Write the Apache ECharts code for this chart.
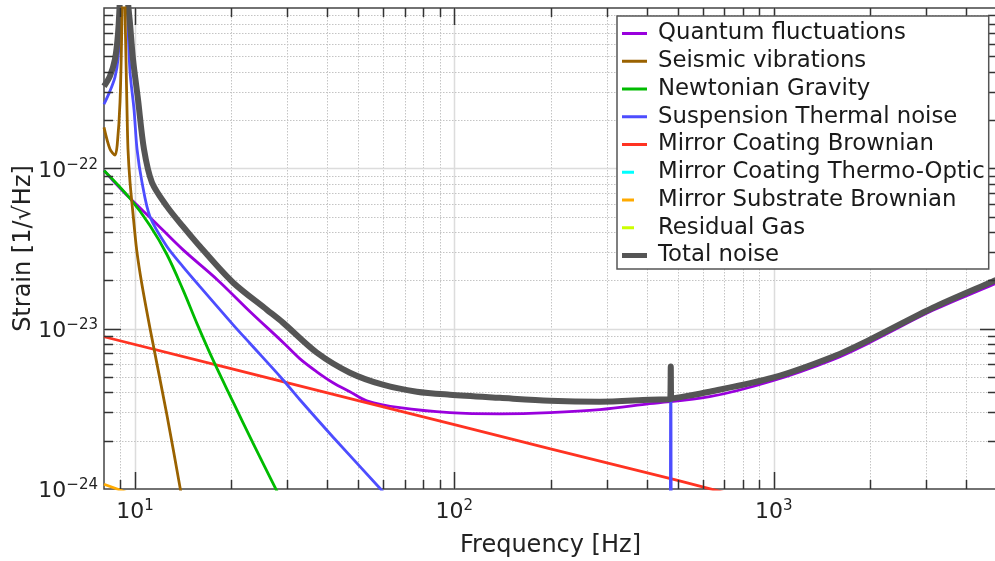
<!DOCTYPE html>
<html>
<head>
<meta charset="utf-8">
<script src="https://cdn.jsdelivr.net/npm/echarts@6/dist/echarts.min.js"></script>
<style>
  html, body { margin: 0; padding: 0; background: #fff; }
  #main { width: 995px; height: 561px; }
</style>
</head>
<body>
<div id="main"></div>
<script>
const X_MIN = 8, X_MAX = 5000;
const Y_MIN = 1e-24, Y_MAX = 1e-21;

// [frequency Hz, strain 1/sqrt(Hz)]
const quantumNoise = [
    [8, 9.7e-23], [8.53, 8.4e-23], [9.65, 6.5e-23], [11.4, 4.73e-23], [14.1, 3.12e-23],
    [18.1, 2.02e-23], [22.9, 1.28e-23], [29.1, 8.2e-24], [32.8, 6.5e-24], [37.1, 5.38e-24],
    [41.7, 4.6e-24], [47.1, 4.04e-24], [53.2, 3.55e-24], [67.5, 3.21e-24], [96.8, 2.99e-24],
    [139, 2.94e-24], [199, 2.99e-24], [285, 3.12e-24], [409, 3.4e-24], [630, 3.76e-24],
    [993, 4.73e-24], [1530, 6.4e-24], [2000, 8.2e-24], [3150, 1.3e-23], [4850, 1.88e-23], [5000, 1.93e-23]
];
const seismicNoise = [
    [8, 1.8e-22], [8.35, 1.32e-22], [8.66, 1.21e-22], [8.8, 1.4e-22], [8.98, 2.6e-22],
    [9.1, 8e-22], [9.24, 6e-21], [9.31, 1e-21], [9.37, 5e-22], [9.44, 2.4e-22], [9.51, 1.32e-22],
    [9.65, 8.2e-23], [9.88, 5.0e-23], [10.12, 3.12e-23], [10.49, 1.94e-23], [11.14, 1.01e-23],
    [12.57, 2.94e-24], [13.83, 1.03e-24], [14.5, 6e-25]
];
const newtonianNoise = [
    [8, 9.7e-23], [9.65, 6.49e-23], [11.14, 4.4e-23], [12.59, 2.9e-23], [14.13, 1.75e-23],
    [15.64, 1.075e-23], [17.54, 6.4e-24], [20.27, 3.5e-24], [23.4, 1.94e-24], [27.6, 1.0e-24], [31, 6.3e-25]
];
const suspensionNoise = [
    [8, 2.51e-22], [8.35, 3.03e-22], [8.66, 3.71e-22], [8.85, 4.8e-22], [9.0, 9e-22], [9.1, 2.5e-21],
    [9.24, 8e-21], [9.37, 2.5e-21], [9.51, 8e-22], [9.65, 4e-22], [9.93, 2.34e-22], [10.15, 1.32e-22],
    [10.52, 8.18e-23], [11.14, 5.0e-23], [12.59, 3.25e-23], [14.13, 2.44e-23], [15.98, 1.83e-23],
    [20.27, 1.06e-23], [22.9, 8.1e-24], [29.06, 4.8e-24], [32.84, 3.6e-24], [41.67, 2.11e-24],
    [58.46, 1.01e-24], [65, 8e-25], [470, 1e-25], [476, 4.5e-24], [482, 1e-25], [5000, 1e-25]
];
const coatingBrownian = [
    [8, 8.9e-24], [20, 5.63e-24], [50, 3.56e-24], [100, 2.52e-24], [200, 1.78e-24], [500, 1.13e-24], [1000, 7.9e-25]
];
const coatingThermoOptic = [[8, 3e-25], [100, 1.5e-25], [1000, 1.5e-25], [5000, 2e-25]];
const substrateBrownian = [[8, 1.07e-24], [10, 9.1e-25], [20, 6e-25], [100, 2.3e-25], [1000, 6e-26]];
const residualGas = [[8, 6e-25], [100, 4e-25], [5000, 4e-25]];
const totalNoise = [
    [8, 3.25e-22], [8.35, 3.76e-22], [8.66, 4.8e-22], [8.85, 6.9e-22], [8.98, 1.2e-21], [9.1, 3e-21],
    [9.24, 8e-21], [9.37, 2.5e-21], [9.51, 1.1e-21], [9.65, 8e-22], [9.86, 4.8e-22], [10.22, 2.7e-22],
    [10.67, 1.32e-22], [11.3, 8.18e-23], [12.59, 5.79e-23], [14.13, 4.34e-23], [15.98, 3.25e-23],
    [20.27, 1.94e-23], [25.9, 1.31e-23], [29.06, 1.09e-23], [37.1, 7.08e-24], [47.1, 5.31e-24],
    [59.7, 4.47e-24], [76.3, 4.04e-24], [96.8, 3.87e-24], [139, 3.7e-24], [199, 3.55e-24],
    [285, 3.5e-24], [409, 3.6e-24], [472, 3.63e-24], [474.5, 3.64e-24], [476, 5.8e-24], [477.5, 3.65e-24],
    [480, 3.66e-24], [630, 4.04e-24], [993, 4.94e-24], [1530, 6.68e-24], [2000, 8.54e-24],
    [3150, 1.35e-23], [4850, 1.97e-23], [5000, 2.02e-23]
];

const xMajorTicks = [10, 100, 1000];
const xMinorTicks = [9, 20, 30, 40, 50, 60, 70, 80, 90, 200, 300, 400, 500, 600, 700, 800, 900, 2000, 3000, 4000];
const yMajorTicks = [1e-23, 1e-22];
const yMinorTicks = [
    2e-24, 3e-24, 4e-24, 5e-24, 6e-24, 7e-24, 8e-24, 9e-24,
    2e-23, 3e-23, 4e-23, 5e-23, 6e-23, 7e-23, 8e-23, 9e-23,
    2e-22, 3e-22, 4e-22, 5e-22, 6e-22, 7e-22, 8e-22, 9e-22
];

const FONT = 'DejaVu Sans';
const chart = echarts.init(document.getElementById('main'));

// kind: 0 x minor, 1 x major, 2 y minor, 3 y major
const tickRows = [].concat(
    xMinorTicks.map(v => [v, Y_MIN, 0]),
    xMajorTicks.map(v => [v, Y_MIN, 1]),
    yMinorTicks.map(v => [X_MIN, v, 2]),
    yMajorTicks.map(v => [X_MIN, v, 3])
);

function tickPos(api, kind) {
    if (kind < 2) return Math.round(api.coord([api.value(0), Y_MIN])[0]) + 0.5;
    return Math.round(api.coord([X_MIN, api.value(1)])[1]) + 0.5;
}

function renderGrid(params, api) {
    const cs = params.coordSys;
    const kind = api.value(2);
    const p = tickPos(api, kind);
    const style = kind % 2 === 1
        ? { stroke: '#dcdcdc', lineWidth: 1.5 }
        : { stroke: '#c4c4c4', lineWidth: 1, lineDash: [1.5, 1.5] };
    const shape = kind < 2
        ? { x1: p, y1: cs.y, x2: p, y2: cs.y + cs.height }
        : { x1: cs.x, y1: p, x2: cs.x + cs.width, y2: p };
    return { type: 'line', shape: shape, style: style, silent: true };
}

function renderTicks(params, api) {
    const cs = params.coordSys;
    const kind = api.value(2);
    const p = tickPos(api, kind);
    const len = kind % 2 === 1 ? 17 : 9;
    const style = { stroke: '#333', lineWidth: 1.5 };
    let a, b;
    if (kind < 2) {
        a = { x1: p, y1: cs.y + cs.height, x2: p, y2: cs.y + cs.height - len };
        b = { x1: p, y1: cs.y, x2: p, y2: cs.y + len };
    } else {
        a = { x1: cs.x, y1: p, x2: cs.x + len, y2: p };
        b = { x1: cs.x + cs.width, y1: p, x2: cs.x + cs.width - len, y2: p };
    }
    return {
        type: 'group',
        silent: true,
        children: [
            { type: 'line', shape: a, style: style },
            { type: 'line', shape: b, style: style }
        ]
    };
}

function powerLabel(hideTop) {
    return function(v) {
        if (!(v > 0) || !isFinite(v)) return '';
        const e = Math.log10(v);
        const r = Math.round(e);
        if (Math.abs(e - r) > 1e-6) return '';
        if (hideTop && r === -21) return '';
        return '{b|10}{s|' + String(r).replace('-', '\u2212') + '}';
    };
}

const supRich = {
    b: { fontSize: 22, lineHeight: 22, padding: [5, 0, 0, 0], color: '#222', fontFamily: FONT },
    s: { fontSize: 15, lineHeight: 15, verticalAlign: 'top', color: '#222', fontFamily: FONT }
};

function curve(name, data, color, width, smooth) {
    return {
        name: name,
        type: 'line',
        data: data,
        symbol: 'none',
        showSymbol: false,
        clip: true,
        smooth: smooth || false,
        lineStyle: { color: color, width: width },
        itemStyle: { color: color },
        z: 2
    };
}

const corners = 'M0,0h0.01v0.01h-0.01z M30.99,13.99h0.01v0.01h-0.01z ';
const iconLong = 'path://' + corners + 'M0,5.5h25v3h-25z';
const iconShort = 'path://' + corners + 'M0,5.5h12v3h-12z';
const iconThick = 'path://' + corners + 'M0,4.5h25v5h-25z';

const option = {
    animation: false,
    backgroundColor: '#fff',
    grid: {
        left: 104, right: -2, top: 8, bottom: 72,
        show: true, borderColor: '#444', borderWidth: 1.5, backgroundColor: 'transparent',
        outerBoundsMode: 'none'
    },
    legend: {
        orient: 'vertical',
        left: 617, top: 16,
        padding: [6, 4, 2, 5],
        itemWidth: 31, itemHeight: 14, itemGap: 4.75,
        backgroundColor: '#fff',
        borderColor: '#555', borderWidth: 1.5, borderRadius: 0,
        selectedMode: false,
        textStyle: { fontSize: 22.8, lineHeight: 22, color: '#1a1a1a', fontFamily: FONT },
        data: [
            { name: 'Quantum fluctuations', icon: iconLong },
            { name: 'Seismic vibrations', icon: iconLong },
            { name: 'Newtonian Gravity', icon: iconLong },
            { name: 'Suspension Thermal noise', icon: iconLong },
            { name: 'Mirror Coating Brownian', icon: iconLong },
            { name: 'Mirror Coating Thermo-Optic', icon: iconShort },
            { name: 'Mirror Substrate Brownian', icon: iconShort },
            { name: 'Residual Gas', icon: iconShort },
            { name: 'Total noise', icon: iconThick }
        ],
        z: 10
    },
    xAxis: {
        type: 'log', logBase: 10, min: X_MIN, max: X_MAX,
        axisLine: { show: false }, axisTick: { show: false }, splitLine: { show: false },
        axisLabel: { margin: 10, formatter: powerLabel(false), rich: supRich, showMinLabel: false, showMaxLabel: false },
        name: 'Frequency [Hz]', nameLocation: 'middle', nameGap: 45, nameMoveOverlap: false,
        nameTextStyle: { fontSize: 24, color: '#222', fontFamily: FONT }
    },
    yAxis: {
        // a hair below 1e-24 so that 1e-24 is an ordinary labelled tick
        type: 'log', logBase: 10, min: 0.999e-24, max: Y_MAX,
        axisLine: { show: false }, axisTick: { show: false }, splitLine: { show: false },
        axisLabel: { margin: 6, formatter: powerLabel(true), rich: supRich, showMaxLabel: false },
        name: 'Strain [1/\u221AHz]', nameLocation: 'middle', nameGap: 68, nameMoveOverlap: false,
        nameTextStyle: { fontSize: 24, color: '#222', fontFamily: FONT }
    },
    series: [
        { type: 'custom', renderItem: renderGrid, data: tickRows, z: 1, silent: true, clip: false },
        curve('Mirror Coating Thermo-Optic', coatingThermoOptic, '#00ffff', 2.8),
        curve('Residual Gas', residualGas, '#ccff00', 2.8),
        curve('Mirror Substrate Brownian', substrateBrownian, '#ffaa00', 2.8),
        curve('Quantum fluctuations', quantumNoise, '#9900dd', 2.8, 0.35),
        curve('Mirror Coating Brownian', coatingBrownian, '#ff3322', 2.8),
        curve('Newtonian Gravity', newtonianNoise, '#00bb00', 2.8, 0.35),
        curve('Suspension Thermal noise', suspensionNoise, '#4d4dff', 2.8, 0.3),
        curve('Total noise', totalNoise, '#555555', 6, 0.3),
        curve('Seismic vibrations', seismicNoise, '#9a6200', 2.8, 0.3),
        { type: 'custom', renderItem: renderTicks, data: tickRows, z: 3, silent: true, clip: false }
    ]
};

chart.setOption(option);
</script>
</body>
</html>
